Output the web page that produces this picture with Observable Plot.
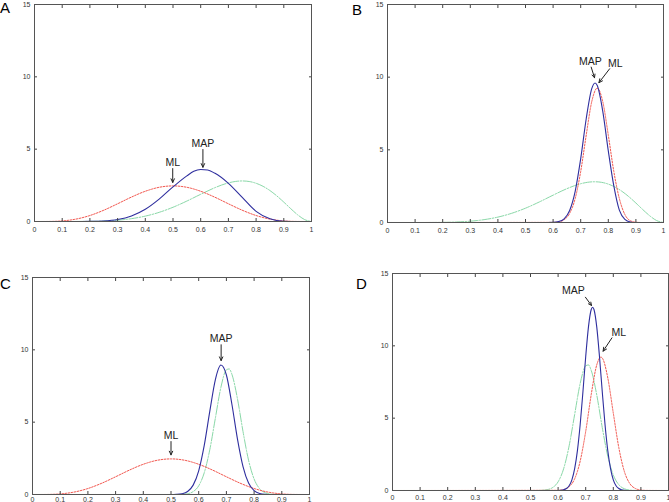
<!DOCTYPE html>
<html><head><meta charset="utf-8">
<script src="https://cdn.jsdelivr.net/npm/d3@7"></script>
<script src="https://cdn.jsdelivr.net/npm/@observablehq/plot@0.6"></script>
<style>
body{margin:0;background:#fff;}
#wrap{position:relative;width:669px;height:502px;overflow:hidden;font-family:"Liberation Sans",Arial,sans-serif;background:#fff;}
.panel{position:absolute;}
.letter{position:absolute;font-size:15px;line-height:15px;color:#000;}
</style></head><body><div id="wrap"></div>
<script>
// ---- ticks ----
const xTicks = [0,0.1,0.2,0.3,0.4,0.5,0.6,0.7,0.8,0.9,1];
const yTicks = [0,5,10,15];

// ---- shared curves ----
const ml55X = [0,0.05,0.1,0.15,0.2,0.25,0.3,0.35,0.4,0.45,0.5,0.55,0.6,0.65,0.7,0.75,0.8,0.85,0.9,0.95,1];
const ml55Y = [0,0.003,0.041,0.167,0.413,0.779,1.225,1.688,2.090,2.364,2.461,2.364,2.090,1.688,1.225,0.779,0.413,0.167,0.041,0.003,0];

const wideX = [0,0.1,0.2,0.25,0.3,0.35,0.4,0.45,0.5,0.55,0.6,0.65,0.7,0.725,0.75,0.775,0.8,0.825,0.85,0.875,0.9,0.925,0.95,0.975,1];
const wideY = [0,0.0002,0.010,0.035,0.090,0.196,0.372,0.633,0.984,1.413,1.881,2.328,2.668,2.767,2.803,2.765,2.642,2.433,2.138,1.767,1.339,0.888,0.463,0.135,0];

const narrowX = [0,0.52,0.54,0.56,0.58,0.60,0.62,0.64,0.66,0.68,0.70,0.71,0.72,0.74,0.76,0.78,0.80,0.82,0.84,0.86,0.88,0.90,1];
const narrowY = [0,0.002,0.0125,0.055,0.20,0.60,1.50,3.09,5.26,7.40,8.62,8.68,8.30,6.61,4.35,2.37,1.07,0.40,0.12,0.031,0.006,0,0];

// ---- panel A ----
const aMapX = [0,0.15,0.2,0.25,0.3,0.35,0.4,0.45,0.5,0.55,0.575,0.6,0.625,0.65,0.7,0.75,0.8,0.85,0.9,0.95,1];
const aMapY = [0,0.001,0.007,0.037,0.137,0.383,0.848,1.551,2.392,3.155,3.47,3.59,3.56,3.346,2.640,1.664,0.699,0.183,0.017,0.001,0];

// ---- panel B ----
const bMapX = [0,0.58,0.60,0.62,0.64,0.66,0.68,0.70,0.72,0.74,0.752,0.76,0.78,0.80,0.82,0.84,0.86,0.88,0.90,1];
const bMapY = [0,0.002,0.012,0.062,0.256,0.831,2.147,4.394,7.14,9.21,9.6,9.42,7.65,4.93,2.52,0.85,0.22,0.04,0,0];
const bMlX = [0,0.60,0.62,0.64,0.66,0.68,0.70,0.72,0.74,0.76,0.78,0.80,0.82,0.84,0.86,0.88,0.90,0.92,1];
const bMlY = [0,0.009,0.047,0.19,0.63,1.65,3.51,6.01,8.31,9.25,8.31,6.01,3.51,1.65,0.55,0.12,0.02,0,0];

// ---- panel C ----
const cMapX = [0,0.50,0.52,0.54,0.56,0.58,0.60,0.62,0.64,0.66,0.68,0.70,0.72,0.74,0.76,0.78,0.80,0.82,0.84,0.86,1];
const cMapY = [0,0,0.012,0.055,0.209,0.648,1.64,3.39,5.74,7.93,8.95,8.26,6.22,3.83,1.93,0.79,0.27,0.073,0.016,0.003,0];

// ---- panel D ----
const dMapX = [0,0.60,0.61,0.62,0.63,0.64,0.65,0.66,0.67,0.68,0.69,0.70,0.71,0.72,0.725,0.73,0.74,0.75,0.76,0.77,0.78,0.79,0.80,0.81,0.82,0.83,0.84,0.86,1];
const dMapY = [0,0.005,0.016,0.049,0.134,0.33,0.74,1.51,2.76,4.56,6.83,9.25,11.31,12.51,12.67,12.51,11.31,9.25,6.83,4.56,2.76,1.51,0.74,0.33,0.134,0.049,0.016,0.002,0];
const dMlX = [0,0.60,0.62,0.64,0.66,0.68,0.70,0.72,0.74,0.755,0.76,0.78,0.80,0.82,0.84,0.86,0.88,0.90,0.92,1];
const dMlY = [0,0.014,0.068,0.26,0.81,2.03,4.08,6.63,8.68,9.22,9.16,7.79,5.35,2.96,1.32,0.47,0.14,0.032,0.006,0];

// ---- annotations: label, text x, text y, arrow from (x1,y1) to (x2,y2) ----
const aNotes = [
  {label:"ML",  tx:0.499, ty:4.05, x1:0.499, y1:3.66, x2:0.499, y2:2.70},
  {label:"MAP", tx:0.608, ty:5.35, x1:0.608, y1:4.98, x2:0.608, y2:3.75}
];
const bNotes = [
  {label:"MAP", tx:0.735, ty:11.05, x1:0.738, y1:10.69, x2:0.750, y2:9.96},
  {label:"ML",  tx:0.825, ty:10.95, x1:0.805, y1:10.58, x2:0.766, y2:9.62}
];
const cNotes = [
  {label:"MAP", tx:0.681, ty:10.78, x1:0.681, y1:10.35, x2:0.681, y2:9.26},
  {label:"ML",  tx:0.500, ty:4.10,  x1:0.500, y1:3.66,  x2:0.500, y2:2.74}
];
const dNotes = [
  {label:"MAP", tx:0.655, ty:13.85, x1:0.699, y1:13.36, x2:0.721, y2:12.79},
  {label:"ML",  tx:0.820, ty:10.90, x1:0.795, y1:10.55, x2:0.763, y2:9.63}
];

const BLUE = "#2e2e9e", RED = "#f2564e", GREEN = "#8ad8a8";

function zip(xs, ys){ return xs.map((x,i)=>({x, y: ys[i]})); }

const panels = [
  {letter:"A", left:0, top:0, w:334, h:250, ml:34, mr:23, mt:4, mb:29, lx:0, ly:0, pad:6,
   prior:zip(wideX,wideY), lik:zip(ml55X,ml55Y), post:zip(aMapX,aMapY), notes:aNotes},
  {letter:"B", left:334, top:0, w:335, h:250, ml:53, mr:6, mt:4, mb:28, lx:352, ly:2, pad:6,
   prior:zip(wideX,wideY), lik:zip(bMlX,bMlY), post:zip(bMapX,bMapY), notes:bNotes},
  {letter:"C", left:0, top:250, w:334, h:252, ml:32, mr:25, mt:27, mb:8, lx:0, ly:276, pad:3,
   prior:zip(narrowX,narrowY), lik:zip(ml55X,ml55Y), post:zip(cMapX,cMapY), notes:cNotes},
  {letter:"D", left:334, top:250, w:335, h:252, ml:58, mr:1, mt:23, mb:12, lx:356, ly:276, pad:5,
   prior:zip(narrowX,narrowY), lik:zip(dMlX,dMlY), post:zip(dMapX,dMapY), notes:dNotes}
];

const wrap = document.getElementById("wrap");
for (const p of panels) {
  const svg = Plot.plot({
    width: p.w, height: p.h,
    marginLeft: p.ml, marginRight: p.mr, marginTop: p.mt, marginBottom: p.mb,
    style: {background: "transparent", overflow: "visible", fontFamily: "'Liberation Sans', Arial, sans-serif"},
    x: {domain: [0,1]},
    y: {domain: [0,15]},
    marks: [
      Plot.line(p.prior, {x:"x", y:"y", stroke: GREEN, strokeWidth: 1, strokeDasharray: "9,1.5,1.5,1.5", curve: "monotone-x"}),
      Plot.line(p.lik, {x:"x", y:"y", stroke: RED, strokeWidth: 1, strokeDasharray: "1.6,1.4", curve: "monotone-x"}),
      Plot.line(p.post, {x:"x", y:"y", stroke: BLUE, strokeWidth: 1.1, curve: "monotone-x"}),
      Plot.axisX(xTicks, {anchor:"bottom", tickSize: 0, tickPadding: p.pad, fontSize: 7, fill: "#333", tickFormat: d => String(d), label: null}),
      Plot.axisX(xTicks, {anchor:"bottom", tickSize: -3, stroke: "#444", tickFormat: () => "", label: null}),
      Plot.axisX(xTicks, {anchor:"top", tickSize: -3, stroke: "#444", tickFormat: () => "", label: null}),
      Plot.axisY(yTicks, {anchor:"left", tickSize: 0, tickPadding: 4, fontSize: 7, fill: "#333", tickFormat: d => String(d), label: null}),
      Plot.axisY(yTicks, {anchor:"left", tickSize: -3, stroke: "#444", tickFormat: () => "", label: null}),
      Plot.axisY(yTicks, {anchor:"right", tickSize: -3, stroke: "#444", tickFormat: () => "", label: null}),
      Plot.frame({stroke: "#555", strokeWidth: 1}),
      Plot.arrow(p.notes, {x1:"x1", y1:"y1", x2:"x2", y2:"y2", stroke:"#222", strokeWidth: 1, headLength: 6, headAngle: 50}),
      Plot.text(p.notes, {x:"tx", y:"ty", text:"label", fontSize: 10.5, fill:"#222"})
    ]
  });
  svg.classList.add("panel");
  svg.style.left = p.left + "px";
  svg.style.top = p.top + "px";
  wrap.appendChild(svg);
  const L = document.createElement("div");
  L.className = "letter";
  L.textContent = p.letter;
  L.style.left = p.lx + "px";
  L.style.top = p.ly + "px";
  wrap.appendChild(L);
}
</script></body></html>
